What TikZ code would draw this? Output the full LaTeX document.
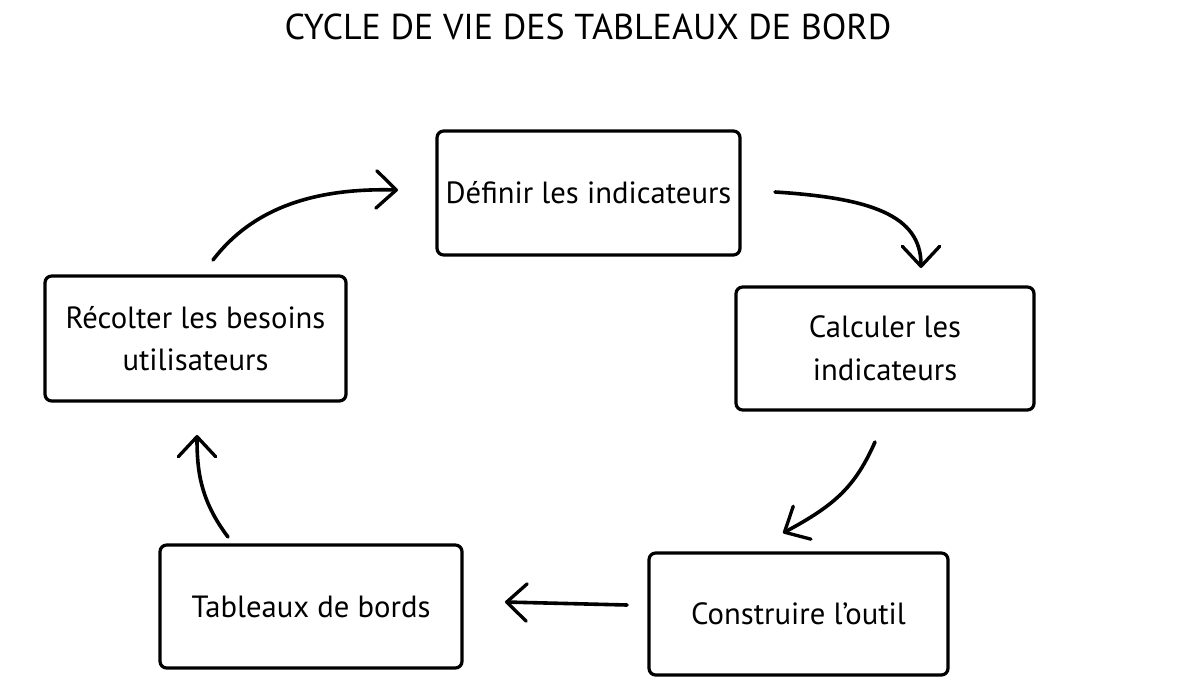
\documentclass[tikz,border=0pt]{standalone}
\usepackage{fontspec}
\setmainfont{PT Sans}
\usetikzlibrary{arrows.meta}
\begin{document}
\begin{tikzpicture}[x=0.75pt,y=-0.75pt,
  box/.style={draw=black, line width=2.4pt, rounded corners=5pt, fill=white, align=center,
    inner sep=0pt, font=\fontsize{23}{32}\selectfont},
  conn/.style={draw=black, line width=2.7pt, line cap=round,
    -{Straight Barb[length=15pt,width=28pt,line width=2.5pt,round]}}]
\useasboundingbox (0,0) rectangle (1177,681);
\node[font=\fontsize{27}{30}\selectfont] (title) at (588,27) {CYCLE DE VIE DES TABLEAUX DE BORD};
\node[box, minimum width=303*0.75pt, minimum height=124*0.75pt] (def) at (588.5,193) {Définir les indicateurs};
\node[box, minimum width=298*0.75pt, minimum height=123*0.75pt] (calc) at (885,348.5) {Calculer les\\indicateurs};
\node[box, minimum width=299*0.75pt, minimum height=122*0.75pt] (cons) at (798.5,614) {Construire l’outil};
\node[box, minimum width=302*0.75pt, minimum height=123*0.75pt] (tab) at (311,606.5) {Tableaux de bords};
\node[box, minimum width=301*0.75pt, minimum height=125*0.75pt] (rec) at (195.5,338.5) {Récolter les besoins\\utilisateurs};
\coordinate (a1s) at (213,260);
\coordinate (a1e) at (398,190);
\coordinate (a2s) at (775,192);
\coordinate (a2e) at (921,268);
\coordinate (a3s) at (875,442);
\coordinate (a3e) at (783,533);
\coordinate (a4s) at (627,605);
\coordinate (a4e) at (505,602);
\coordinate (a5s) at (228,537);
\coordinate (a5e) at (197,435);
\draw[conn] (a1s) .. controls (255,205) and (320,188) .. (a1e);
\draw[conn] (a2s) .. controls (870,198) and (921,215) .. (a2e);
\draw[conn] (a3s) .. controls (855,487) and (835,505) .. (a3e);
\draw[conn] (a4s) -- (a4e);
\draw[conn] (a5s) .. controls (200,500) and (197,470) .. (a5e);
\end{tikzpicture}
\end{document}
